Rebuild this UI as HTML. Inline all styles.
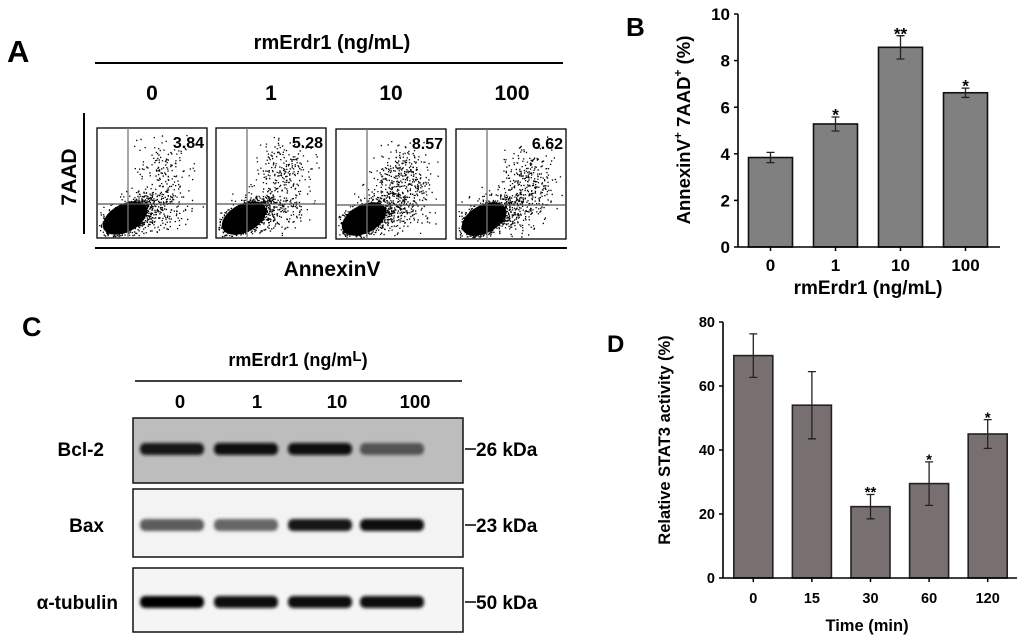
<!DOCTYPE html>
<html><head><meta charset="utf-8">
<style>
html,body{margin:0;padding:0;background:#fff;}
svg{display:block;font-family:"Liberation Sans",Arial,sans-serif;font-weight:bold;}
</style></head>
<body>
<svg id="fig" width="1024" height="641" viewBox="0 0 1024 641" xmlns="http://www.w3.org/2000/svg">
<defs>
<filter id="blur2" x="-20%" y="-100%" width="140%" height="300%"><feGaussianBlur stdDeviation="1.6"/></filter>
</defs>
<!-- Panel A -->
<g>
<text x="7" y="62" font-size="31">A</text>
<text x="332" y="49" font-size="20" text-anchor="middle">rmErdr1 (ng/mL)</text>
<line x1="95" y1="63" x2="563" y2="63" stroke="#000" stroke-width="2"/>
<line x1="95" y1="248" x2="567" y2="248" stroke="#000" stroke-width="2"/>
<line x1="84" y1="113" x2="84" y2="234" stroke="#000" stroke-width="2"/>
<text transform="translate(76,177) rotate(-90)" font-size="21" text-anchor="middle">7AAD</text>
<text x="332" y="276" font-size="21" text-anchor="middle">AnnexinV</text>
<g id="flow"></g>
</g>
<!-- Panel B -->
<g>
<text x="626" y="36" font-size="26">B</text>
<g id="chartB"></g>
</g>
<!-- Panel C -->
<g>
<text x="22" y="336" font-size="27">C</text>
<text x="298" y="366" font-size="18" text-anchor="middle">rmErdr1 (ng/m<tspan font-size="15" dy="-5">L</tspan><tspan dy="5">)</tspan></text>
<line x1="135" y1="381" x2="462" y2="381" stroke="#000" stroke-width="1.5"/>
<g id="blots"></g>
</g>
<!-- Panel D -->
<g>
<text x="607" y="352" font-size="24">D</text>
<g id="chartD"></g>
</g>
</svg>
<script>
// ---------- data ----------
const flowDoses = ["0", "1", "10", "100"];
const flowPercents = [3.84, 5.28, 8.57, 6.62];

const bCategories = ["0", "1", "10", "100"];
const bValues = [3.84, 5.28, 8.57, 6.62];
const bErrors = [0.22, 0.3, 0.5, 0.2];
const bStars = ["", "*", "**", "*"];
const bTicks = [0, 2, 4, 6, 8, 10];

const dCategories = ["0", "15", "30", "60", "120"];
const dValues = [69.5, 54, 22.3, 29.5, 45];
const dErrors = [6.8, 10.5, 3.8, 6.8, 4.5];
const dStars = ["", "", "**", "*", "*"];
const dTicks = [0, 20, 40, 60, 80];

const blotLanes = ["0", "1", "10", "100"];
const bcl2Intensity = [0.9, 0.95, 0.92, 0.6];
const baxIntensity = [0.55, 0.5, 0.9, 0.95];
const tubulinIntensity = [0.98, 0.95, 0.95, 0.96];

const NS = "http://www.w3.org/2000/svg";
function mk(tag, attrs, parent) {
  const e = document.createElementNS(NS, tag);
  for (const k in attrs) e.setAttribute(k, attrs[k]);
  parent.appendChild(e);
  return e;
}

// ---------- Panel A: flow plots ----------
(function () {
  const g = document.getElementById("flow");
  const boxX = [97, 216, 336, 456];
  const boxTop = [128, 128, 129, 129];
  const bw = 110, bh = 110;
  const labelX = [152, 271, 391, 512];
  let seed = 12345;
  function rnd() { seed = (seed * 1103515245 + 12345) % 2147483648; return seed / 2147483648; }
  function gauss() { return (rnd() + rnd() + rnd() + rnd() - 2) / 0.58; }
  flowDoses.forEach((d, i) => {
    const t = mk("text", { x: labelX[i], y: 100, "font-size": 21, "text-anchor": "middle" }, g);
    
    
    t.textContent = d;
    const x0 = boxX[i], y0 = boxTop[i];
    const box = mk("g", {}, g);
    
    
    mk("rect", { x: x0, y: y0, width: bw, height: bh, fill: "#fff", stroke: "#000", "stroke-width": 1.3 }, box);
    mk("ellipse", { cx: x0 + 28, cy: y0 + 90, rx: 24, ry: 14, fill: "#000", transform: `rotate(-28 ${x0 + 28} ${y0 + 90})` }, box);
    let dots = "";
    function add(px, py) {
      if (px > x0 + 2 && px < x0 + bw - 2 && py > y0 + 2 && py < y0 + bh - 2) dots += `M${px.toFixed(1)},${py.toFixed(1)}h1.3v1.3h-1.3z`;
    }
    for (let k = 0; k < 700; k++) {
      const px = x0 + 30 + gauss() * 15; add(px, y0 + 90 + gauss() * 9 - (px - x0 - 30) * 0.45);
    }
    const nUp = Math.round(flowPercents[i] * 40);
    const ucx = x0 + 68 + (i === 3 ? 6 : 0), ucy = y0 + 42 + (i >= 2 ? 8 : 0);
    for (let k = 0; k < nUp; k++) add(ucx + gauss() * 14, ucy + gauss() * 16);
    for (let k = 0; k < 260; k++) add(x0 + 55 + gauss() * 18, y0 + 82 + gauss() * 11);
    mk("path", { d: dots, fill: "#000" }, box);
    mk("line", { x1: x0 + 31, y1: y0, x2: x0 + 31, y2: y0 + bh, stroke: "#777", "stroke-width": 1.3 }, box);
    mk("line", { x1: x0, y1: y0 + 76, x2: x0 + bw, y2: y0 + 76, stroke: "#555", "stroke-width": 1.3 }, box);
    const p = mk("text", { x: x0 + bw - 3, y: y0 + 20, "font-size": 16, "text-anchor": "end" }, box);
    
    
    p.textContent = flowPercents[i].toFixed(2);
  });
})();

// ---------- generic bar chart ----------
function barChart(gid, cfg, cats, vals, errs, stars, ticks) {
  const g = document.getElementById(gid);
  const ymax = ticks[ticks.length - 1];
  const y = v => cfg.y0 - (v / ymax) * (cfg.y0 - cfg.yTop);
  const step = (cfg.xEnd - cfg.xStart) / cats.length;
  const xc = i => cfg.xStart + step * (i + 0.5);
  ticks.forEach(t => {
    mk("line", { x1: cfg.axisX - 4, y1: y(t), x2: cfg.axisX, y2: y(t), stroke: "#000", "stroke-width": 1.5 }, g);
    const tx = mk("text", { x: cfg.axisX - 8, y: y(t) + cfg.tickFs * 0.36, "font-size": cfg.tickFs, "text-anchor": "end" }, g);
    
    
    tx.textContent = t;
  });
  cats.forEach((c, i) => {
    const bar = mk("rect", { x: xc(i) - cfg.bw / 2, y: y(vals[i]), width: cfg.bw, height: cfg.y0 - y(vals[i]), fill: cfg.fill, stroke: cfg.stroke, "stroke-width": 1.6 }, g);
    
    
    const eh = y(vals[i] + errs[i]), el = y(vals[i] - errs[i]);
    const eb = mk("path", { d: `M${xc(i)},${eh}V${el}M${xc(i) - 4},${eh}h8M${xc(i) - 4},${el}h8`, stroke: "#222", "stroke-width": 1.3, fill: "none" }, g);
    
    
    if (stars[i]) {
      const s = mk("text", { x: xc(i), y: eh - 4 + cfg.starFs * 0.45, "font-size": cfg.starFs, "text-anchor": "middle" }, g);
      
      
      s.textContent = stars[i];
    }
    mk("line", { x1: xc(i), y1: cfg.y0, x2: xc(i), y2: cfg.y0 + 4, stroke: "#000", "stroke-width": 1.5 }, g);
    const lx = mk("text", { x: xc(i), y: cfg.labelY, "font-size": cfg.tickFs, "text-anchor": "middle" }, g);
    
    
    lx.textContent = c;
  });
  mk("line", { x1: cfg.axisX, y1: cfg.yTop, x2: cfg.axisX, y2: cfg.y0, stroke: "#000", "stroke-width": 1.6 }, g);
  mk("line", { x1: cfg.axisX, y1: cfg.y0, x2: cfg.axisEnd, y2: cfg.y0, stroke: "#000", "stroke-width": 1.6 }, g);
}

barChart("chartB", { axisX: 738, axisEnd: 1000, xStart: 738, xEnd: 998, y0: 247, yTop: 14, bw: 44, fill: "#808080", stroke: "#111", tickFs: 17, starFs: 17, labelY: 271 },
  bCategories, bValues, bErrors, bStars, bTicks);
barChart("chartD", { axisX: 723, axisEnd: 1017, xStart: 724, xEnd: 1017, y0: 578, yTop: 322, bw: 39, fill: "#787070", stroke: "#222", tickFs: 14.5, starFs: 15, labelY: 603 },
  dCategories, dValues, dErrors, dStars, dTicks);
(function () {
  const gb = document.getElementById("chartB");
  const yl = mk("text", { transform: "translate(690,130) rotate(-90)", "font-size": 18.5, "text-anchor": "middle" }, gb);
  
  
  yl.innerHTML = 'AnnexinV<tspan font-size="12" dy="-8">+</tspan><tspan dy="8"> 7AAD</tspan><tspan font-size="12" dy="-8">+</tspan><tspan dy="8"> (%)</tspan>';
  const xl = mk("text", { x: 868, y: 294, "font-size": 19, "text-anchor": "middle" }, gb);
  
  
  xl.textContent = "rmErdr1 (ng/mL)";
  const gd = document.getElementById("chartD");
  const yl2 = mk("text", { transform: "translate(670,440) rotate(-90)", "font-size": 16.5, "text-anchor": "middle" }, gd);
  
  
  yl2.textContent = "Relative STAT3 activity (%)";
  const xl2 = mk("text", { x: 867, y: 631, "font-size": 16.5, "text-anchor": "middle" }, gd);
  
  
  xl2.textContent = "Time (min)";
})();

// ---------- Panel C: western blots ----------
(function () {
  const g = document.getElementById("blots");
  const laneX = [172, 246, 320, 392];
  const laneLabelX = [180, 257, 337, 415];
  blotLanes.forEach((l, i) => {
    const t = mk("text", { x: laneLabelX[i], y: 408, "font-size": 18.5, "text-anchor": "middle" }, g);
    
    
    t.textContent = l;
  });
  const rows = [
    { name: "bcl-2", label: "Bcl-2", kda: "26 kDa", y: 418, h: 65, bg: "#bdbdbd", band: 449, vals: bcl2Intensity },
    { name: "bax", label: "Bax", kda: "23 kDa", y: 489, h: 68, bg: "#f3f3f3", band: 525, vals: baxIntensity },
    { name: "tubulin", label: "α-tubulin", kda: "50 kDa", y: 568, h: 64, bg: "#f5f5f5", band: 602, vals: tubulinIntensity }
  ];
  rows.forEach(r => {
    const bg = mk("g", {}, g);
    
    
    mk("rect", { x: 133, y: r.y, width: 330, height: r.h, fill: r.bg, stroke: "#111", "stroke-width": 1.5 }, bg);
    r.vals.forEach((v, i) => {
      const c = Math.round(255 * (1 - v) * 0.8);
      const band = mk("rect", { x: laneX[i] - 32, y: r.band - 6, width: 64, height: 12, rx: 5, fill: `rgb(${c},${c},${c})`, filter: "url(#blur2)" }, bg);
      
      
    });
    const lab = mk("text", { x: r.name === "tubulin" ? 118 : 104, y: r.band + 7, "font-size": 19, "text-anchor": "end" }, g);
    
    
    lab.textContent = r.label;
    mk("line", { x1: 465, y1: r.band, x2: 476, y2: r.band, stroke: "#000", "stroke-width": 1.5 }, g);
    const k = mk("text", { x: 476, y: r.band + 7, "font-size": 19 }, g);
    
    
    k.textContent = r.kda;
  });
})();
</script>
</body></html>
